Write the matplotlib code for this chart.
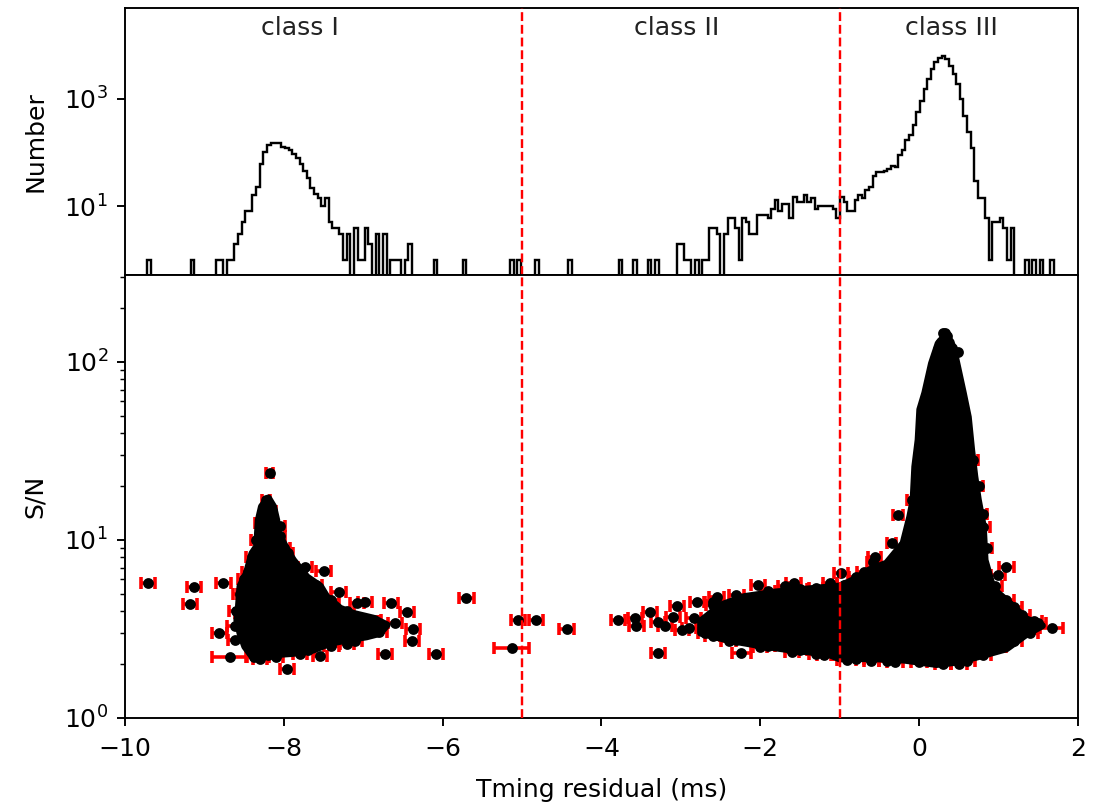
import numpy as np
import matplotlib
matplotlib.use("Agg")
import matplotlib.pyplot as plt
from matplotlib.ticker import NullLocator

plt.rcParams['font.size'] = 10.5

# ---------------- data ----------------
hist_range = (-9.72, 1.70)
hist_counts = [
    1, 0, 0, 0, 0, 0, 0, 0, 0, 0, 0, 0, 1, 0, 0, 0, 0, 0, 0, 1, 1, 0, 1, 1, 2,
    3, 5, 8, 8, 16, 23, 60, 100, 140, 149, 150, 147, 126, 122, 110, 95, 80, 62, 45, 33, 22, 17, 14, 10, 14,
    5, 4, 4, 3, 1, 3, 0, 4, 1, 1, 4, 2, 0, 3, 0, 3, 0, 1, 1, 1, 0, 1, 2, 0, 0,
    0, 0, 0, 0, 1, 0, 0, 0, 0, 0, 0, 0, 1, 0, 0, 0, 0, 0, 0, 0, 0, 0, 0, 0, 0,
    1, 0, 1, 0, 0, 0, 0, 1, 0, 0, 0, 0, 0, 0, 0, 0, 1, 0, 0, 0, 0, 0, 0, 0, 0,
    0, 0, 0, 0, 0, 1, 0, 0, 0, 1, 0, 0, 0, 1, 0, 1, 0, 0, 0, 0, 0, 2, 2, 1, 1,
    0, 1, 0, 1, 1, 4, 4, 3, 0, 3, 6, 6, 4, 1, 6, 5, 3, 3, 7, 7, 7, 6, 9, 13, 8,
    11, 11, 6, 15, 12, 12, 16, 12, 14, 9, 10, 10, 10, 10, 9, 6, 15, 12, 8, 8, 13, 16, 14, 20, 23,
    37, 43, 43, 46, 50, 57, 53, 88, 109, 167, 206, 316, 558, 918, 1510, 2310, 3540, 4700, 5600, 6270, 5430, 4100, 2860, 1870, 980,
    484, 238, 120, 30, 14, 14, 6, 1, 5, 5, 6, 4, 1, 4, 0, 0, 0, 1, 0, 1, 0, 1, 0, 0, 1,
]

class_names = ["class I", "class II", "class III"]
class_label_x = [-7.8, -3.05, 0.41]
class_boundaries = [-5.0, -1.0]

# dense clouds of points (outline of the black region), x in ms, S/N
cloud1_x = [-8.195, -8.28, -8.32, -8.34, -8.40, -8.47, -8.55, -8.57, -8.59, -8.55, -8.49,
            -8.38, -8.17, -7.88, -7.63, -7.42, -7.21, -6.96, -6.79, -6.70, -6.87, -7.13,
            -7.29, -7.46, -7.54, -7.71, -7.88, -7.96, -8.09, -8.09, -8.13]
cloud1_sn = [17.2, 15.4, 12.9, 9.2, 8.4, 6.5, 5.5, 4.2, 3.55, 2.99, 2.52,
             2.16, 2.26, 2.31, 2.41, 2.63, 2.74, 2.86, 2.99, 3.33, 3.63, 3.87,
             4.13, 4.8, 5.5, 6.2, 7.7, 8.8, 11.4, 12.9, 15.4]

cloud2_x = [-2.75, -2.5, -2.2, -1.8, -1.4, -1.0, -0.83, -0.62, -0.41, -0.20,
            -0.116, -0.074, -0.053, -0.011, 0.01, 0.073, 0.157, 0.241, 0.325, 0.40,
            0.45, 0.555, 0.618, 0.66, 0.70, 0.744, 0.807, 0.829, 0.933, 1.143,
            1.35, 1.55, 1.35, 1.10, 0.724, 0.43, 0.22, -0.2, -0.62, -1.0,
            -1.16, -1.58, -2.0, -2.42, -2.75]
cloud2_sn = [3.5, 4.3, 4.8, 5.1, 5.3, 5.5, 5.96, 6.8, 7.4, 9.6,
             13.5, 16.8, 25.8, 36.5, 54, 67, 98, 127, 140, 130,
             110, 67, 49, 32, 22.7, 16.8, 11.9, 7.7, 5.3, 4.4,
             3.6, 3.3, 2.95, 2.45, 2.2, 2.05, 2.0, 2.12, 2.16, 2.15,
             2.3, 2.4, 2.55, 2.75, 3.0]

# brightest bursts at the top of the class III peak (error bars hidden by dots)
top_x = [0.30, 0.35, 0.27, 0.24, 0.41, 0.20, 0.15, 0.45, 0.50, 0.05, 0.58, 0.49, 0.33]
top_sn = [145, 140, 130, 118, 120, 95, 75, 90, 70, 45, 50, 114, 145]

# individual (edge / outlier) bursts: x (ms), S/N, x error (ms)
pt_x = [-9.71, -9.13, -9.18, -8.76, -8.81, -8.61, -8.68, -7.96, -8.18, -8.22,
        -6.73, -6.08, -6.39, -6.37, -6.45, -6.65, -6.60, -6.98, -7.08, -6.87,
        -7.31, -7.50, -7.73, -7.54, -8.38, -8.45, -8.50, -8.52, -8.47, -8.30,
        -8.10, -7.80, -7.10, -7.20, -7.00, -8.15, -8.05, -8.00,
        -8.62, -8.60, -8.55, -8.50, -8.40, -8.35, -8.30, -8.20, -7.70, -7.40,
        -7.20, -6.80, -6.90, -7.20, -7.40, -7.60, -7.80, -7.95, -8.05,
        -5.70, -5.05, -4.82, -5.13, -4.44, -3.79, -3.58, -3.56, -3.39, -3.29,
        -3.29, -3.05, -2.99, -2.84, -2.80, -2.55, -2.59, -2.03, -1.69, -1.58,
        -1.12, -0.98, -2.24, -0.91, -3.10, -3.20, -2.70, -2.40, -2.00, -1.60,
        -1.20, -2.90, -2.60, -2.30, -1.90, -1.50, -1.30, -1.00, -0.80, -0.40,
        0.00, 0.30, 0.60, 0.80, 1.20, 1.40, -2.60, -2.30, -1.90, -1.50,
        -1.30, -0.95, -0.80, -0.70,
        -0.263, -0.346, -0.094, 0.807, 1.10, 0.995, 1.50, 1.37,
        1.668, -0.58, -0.56, 1.20, 1.00, 0.50, -0.30, -0.60, 0.90, 0.75,
        0.68, 0.95, 1.10, 1.30, 1.45, 0.85, 0.80]
pt_sn = [5.71, 5.47, 4.37, 5.71, 3.01, 2.74, 2.21, 1.88, 23.7, 16.8,
         2.28, 2.28, 2.69, 3.15, 3.96, 4.41, 3.40, 4.50, 4.41, 3.55,
         5.08, 6.73, 7.08, 2.23, 2.19, 6.6, 5.0, 3.9, 3.0, 2.15,
         2.2, 2.3, 2.7, 3.1, 3.2, 14.5, 10.5, 9.0,
         3.3, 4.0, 5.0, 6.0, 8.0, 10.0, 12.5, 2.25, 2.4, 2.55,
         2.6, 3.05, 3.5, 4.0, 4.6, 5.6, 6.5, 8.5, 12.0,
         4.7, 3.55, 3.55, 2.46, 3.15, 3.55, 3.63, 3.29, 3.96, 3.48,
         2.33, 4.26, 3.12, 3.63, 4.5, 4.8, 4.3, 5.59, 5.5, 5.71,
         5.71, 6.5, 2.33, 2.12, 3.7, 3.3, 3.0, 2.7, 2.5, 2.35,
         2.25, 3.2, 2.9, 2.75, 2.55, 2.4, 2.3, 2.25, 2.15, 2.1,
         2.05, 2.0, 2.1, 2.25, 2.7, 3.0, 4.5, 4.9, 5.2, 5.3,
         5.4, 5.6, 6.2, 6.6,
         13.8, 9.6, 16.8, 11.9, 7.08, 6.36, 3.43, 3.19,
         3.19, 7.55, 8.06, 4.2, 2.5, 2.0, 2.05, 2.1, 5.0, 20,
         28, 5.5, 4.6, 3.8, 3.5, 9.0, 14.0]
pt_xerr = [0.09, 0.09, 0.09, 0.09, 0.09, 0.09, 0.22, 0.09, 0.05, 0.05,
           0.09, 0.09, 0.09, 0.09, 0.09, 0.09, 0.09, 0.09, 0.09, 0.09,
           0.09, 0.09, 0.09, 0.09, 0.09, 0.08, 0.09, 0.09, 0.09, 0.09,
           0.09, 0.09, 0.09, 0.09, 0.10, 0.05, 0.07, 0.08,
           0.09, 0.09, 0.09, 0.08, 0.07, 0.06, 0.06, 0.09, 0.09, 0.09,
           0.09, 0.10, 0.09, 0.09, 0.09, 0.08, 0.08, 0.07, 0.06,
           0.10, 0.09, 0.09, 0.22, 0.09, 0.09, 0.09, 0.09, 0.09, 0.09,
           0.09, 0.09, 0.09, 0.09, 0.09, 0.09, 0.09, 0.09, 0.09, 0.09,
           0.09, 0.09, 0.12, 0.12, 0.09, 0.09, 0.09, 0.09, 0.09, 0.09,
           0.09, 0.09, 0.09, 0.09, 0.09, 0.09, 0.09, 0.09, 0.10, 0.10,
           0.10, 0.10, 0.10, 0.10, 0.10, 0.10, 0.09, 0.09, 0.09, 0.09,
           0.09, 0.09, 0.08, 0.08,
           0.06, 0.06, 0.06, 0.08, 0.09, 0.09, 0.10, 0.10,
           0.15, 0.08, 0.08, 0.10, 0.10, 0.10, 0.10, 0.10, 0.10, 0.06,
           0.06, 0.09, 0.10, 0.10, 0.10, 0.07, 0.06]

# ---------------- figure ----------------
DPI = 172.5
fig = plt.figure(figsize=(1104 / DPI, 805 / DPI), dpi=DPI)
ax1 = fig.add_axes([0.1132, 0.6584, 0.8632, 0.3316])
ax2 = fig.add_axes([0.1132, 0.1081, 0.8632, 0.5503], sharex=ax1)

# histogram
edges = np.linspace(hist_range[0], hist_range[1], len(hist_counts) + 1)
centers = 0.5 * (edges[1:] + edges[:-1])
ax1.hist(centers, bins=edges, weights=hist_counts, histtype='step',
         color='k', log=True, lw=1.0)
ax1.set_yscale('log')
ax1.set_ylim(0.527, 48000)
ax1.set_yticks([10, 1000])
ax1.yaxis.set_minor_locator(NullLocator())
ax1.tick_params(axis='x', which='both', bottom=False, labelbottom=False)
ax1.set_ylabel('Number', labelpad=7)
for name, xl in zip(class_names, class_label_x):
    ax1.text(xl, 0.925, name, transform=ax1.get_xaxis_transform(),
             ha='center', va='center', fontsize=10.5, color='#222222')

# scatter with error bars; dense cores drawn over them
ax2.errorbar(pt_x, pt_sn, xerr=pt_xerr, fmt='o', color='k', ms=3.5,
             ecolor='r', elinewidth=1.5, capsize=2.5, capthick=1.5, zorder=1)
ax2.fill(cloud1_x, cloud1_sn, facecolor='k', edgecolor='k', lw=3.0,
         joinstyle='round', zorder=2)
ax2.fill(cloud2_x, cloud2_sn, facecolor='k', edgecolor='k', lw=3.0,
         joinstyle='round', zorder=2)
ax2.plot(top_x, top_sn, 'o', color='k', ms=3.5, zorder=3)
ax2.set_yscale('log')
ax2.set_ylim(1, 308)
ax2.set_xlim(-10, 2)
ax2.set_xticks([-10, -8, -6, -4, -2, 0, 2])
ax2.tick_params(axis='x', pad=4.5)
ax2.set_ylabel('S/N', labelpad=7)
ax2.set_xlabel('Tming residual (ms)', labelpad=7)

for ax in (ax1, ax2):
    for b in class_boundaries:
        ax.axvline(b, color='r', ls='--', lw=1.0, zorder=4)

fig.savefig('out.png', dpi=DPI)
